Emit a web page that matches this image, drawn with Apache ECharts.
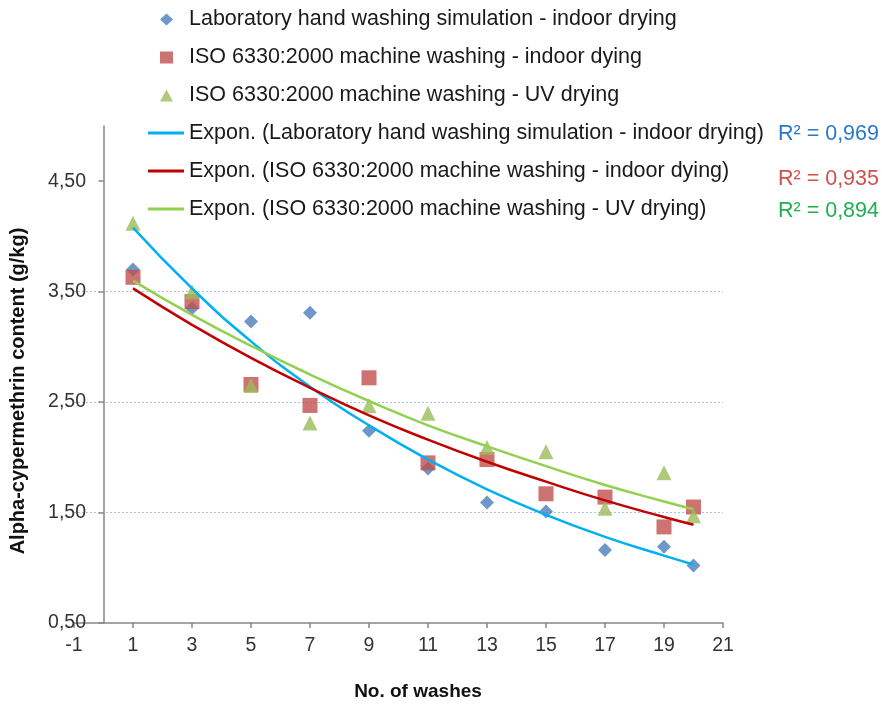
<!DOCTYPE html>
<html><head><meta charset="utf-8">
<script src="https://cdn.jsdelivr.net/npm/echarts@6/dist/echarts.min.js"></script>
<style>html,body{margin:0;padding:0;background:#fff}#c{width:882px;height:708px}</style>
</head><body><div id="c"></div>
<script>
const washes = [1, 3, 5, 7, 9, 11, 13, 15, 17, 19, 20];
const handIndoor = [3.70, 3.35, 3.23, 3.31, 2.24, 1.90, 1.59, 1.51, 1.16, 1.19, 1.02];
const isoIndoor = [3.63, 3.41, 2.66, 2.47, 2.72, 1.95, 1.98, 1.67, 1.64, 1.37, 1.55];
const isoUV = [4.12, 3.50, 2.65, 2.31, 2.47, 2.40, 2.09, 2.05, 1.54, 1.86, 1.47];
const trendHand = [4.08, 3.53, 3.05, 2.64, 2.29, 1.98, 1.71, 1.48, 1.28, 1.11, 1.03];
const trendIsoIndoor = [3.53, 3.20, 2.90, 2.63, 2.38, 2.16, 1.96, 1.78, 1.61, 1.46, 1.39];
const trendIsoUV = [3.60, 3.29, 3.01, 2.75, 2.51, 2.29, 2.10, 1.92, 1.75, 1.60, 1.53];
const seriesNames = [
  'Laboratory hand washing simulation - indoor drying',
  'ISO 6330:2000 machine washing - indoor dying',
  'ISO 6330:2000 machine washing - UV drying',
  'Expon. (Laboratory hand washing simulation - indoor drying)',
  'Expon. (ISO 6330:2000 machine washing - indoor dying)',
  'Expon. (ISO 6330:2000 machine washing - UV drying)'
];
const r2Labels = ['R² = 0,969', 'R² = 0,935', 'R² = 0,894'];
const xTickValues = [-1, 1, 3, 5, 7, 9, 11, 13, 15, 17, 19, 21];
const yTickValues = [0.5, 1.5, 2.5, 3.5, 4.5];
const xTitle = 'No. of washes';
const yTitle = 'Alpha-cypermethrin content (g/kg)';

const pairs = ys => washes.map((x, i) => [x, ys[i]]);
const FONT = 'Liberation Sans, Arial, sans-serif';
const legendText = {fontSize: 21.5, color: '#1a1a1a', fontFamily: FONT, lineHeight: 22};

const chart = echarts.init(document.getElementById('c'), null, {renderer: 'canvas'});
chart.setOption({
  backgroundColor: '#ffffff',
  animation: false,
  textStyle: {fontFamily: FONT},
  grid: {left: 74, right: 159, top: 126, bottom: 85, containLabel: false},
  legend: [
    {
      orient: 'vertical', left: 160, top: 8.5, padding: 0,
      itemWidth: 13, itemHeight: 12, itemGap: 16,
      textStyle: Object.assign({padding: [0, 0, 0, 11]}, legendText),
      data: [
        {name: seriesNames[0], icon: 'diamond'},
        {name: seriesNames[1], icon: 'rect'},
        {name: seriesNames[2], icon: 'triangle'}
      ]
    },
    {
      orient: 'vertical', left: 148, top: 122, padding: 0,
      itemWidth: 36, itemHeight: 3, itemGap: 16,
      textStyle: legendText,
      data: [
        {name: seriesNames[3], icon: 'rect'},
        {name: seriesNames[4], icon: 'rect'},
        {name: seriesNames[5], icon: 'rect'}
      ]
    }
  ],
  xAxis: {
    type: 'value', min: -1, max: 21,
    axisLine: {onZero: false, lineStyle: {color: '#868686', width: 1.5}},
    axisTick: {show: true, length: 5, customValues: xTickValues, lineStyle: {color: '#868686', width: 1.5}},
    axisLabel: {customValues: xTickValues, fontSize: 19.5, color: '#333333', margin: 13, fontFamily: FONT},
    splitLine: {show: false}
  },
  yAxis: {
    type: 'value', min: 0.5, max: 5.0,
    axisLine: {onZero: true, lineStyle: {color: '#868686', width: 1.5}},
    axisTick: {show: true, length: 5, customValues: yTickValues, lineStyle: {color: '#868686', width: 1.5}},
    axisLabel: {
      customValues: yTickValues, fontSize: 19.5, color: '#333333', margin: -12, fontFamily: FONT,
      formatter: v => v.toFixed(2).replace('.', ',')
    },
    splitLine: {show: true, showMinLine: false, showMaxLine: false,
      lineStyle: {color: '#a9c1e3', width: 1, type: [2, 2]}}
  },
  series: [
    {name: seriesNames[0], type: 'scatter', symbol: 'diamond', symbolSize: 14,
      itemStyle: {color: '#4a7ebb'}, data: pairs(handIndoor)},
    {name: seriesNames[1], type: 'scatter', symbol: 'rect', symbolSize: 15,
      itemStyle: {color: '#c0504d'}, data: pairs(isoIndoor)},
    {name: seriesNames[2], type: 'scatter', symbol: 'triangle', symbolSize: 15,
      itemStyle: {color: '#9bbb59'}, data: pairs(isoUV)},
    {name: seriesNames[3], type: 'line', smooth: true, symbol: 'none', showSymbol: false,
      lineStyle: {color: '#00b0f0', width: 2.5}, itemStyle: {color: '#00b0f0'}, data: pairs(trendHand)},
    {name: seriesNames[4], type: 'line', smooth: true, symbol: 'none', showSymbol: false,
      lineStyle: {color: '#c00000', width: 2.5}, itemStyle: {color: '#c00000'}, data: pairs(trendIsoIndoor)},
    {name: seriesNames[5], type: 'line', smooth: true, symbol: 'none', showSymbol: false,
      lineStyle: {color: '#92d050', width: 2.5}, itemStyle: {color: '#92d050'}, data: pairs(trendIsoUV)}
  ],
  graphic: [
    {type: 'text', x: 778, y: 134, style: {text: r2Labels[0], fill: '#2a78c8', font: '21.5px ' + FONT, verticalAlign: 'middle'}},
    {type: 'text', x: 778, y: 179, style: {text: r2Labels[1], fill: '#cf504d', font: '21.5px ' + FONT, verticalAlign: 'middle'}},
    {type: 'text', x: 778, y: 211, style: {text: r2Labels[2], fill: '#1faf50', font: '21.5px ' + FONT, verticalAlign: 'middle'}},
    {type: 'text', x: 418, y: 692, style: {text: xTitle, fill: '#111111', font: 'bold 19px ' + FONT, align: 'center', verticalAlign: 'middle'}},
    {type: 'text', x: 18, y: 391, rotation: Math.PI / 2, style: {text: yTitle, fill: '#111111', font: 'bold 20px ' + FONT, align: 'center', verticalAlign: 'middle'}}
  ]
});
</script>
</body></html>
